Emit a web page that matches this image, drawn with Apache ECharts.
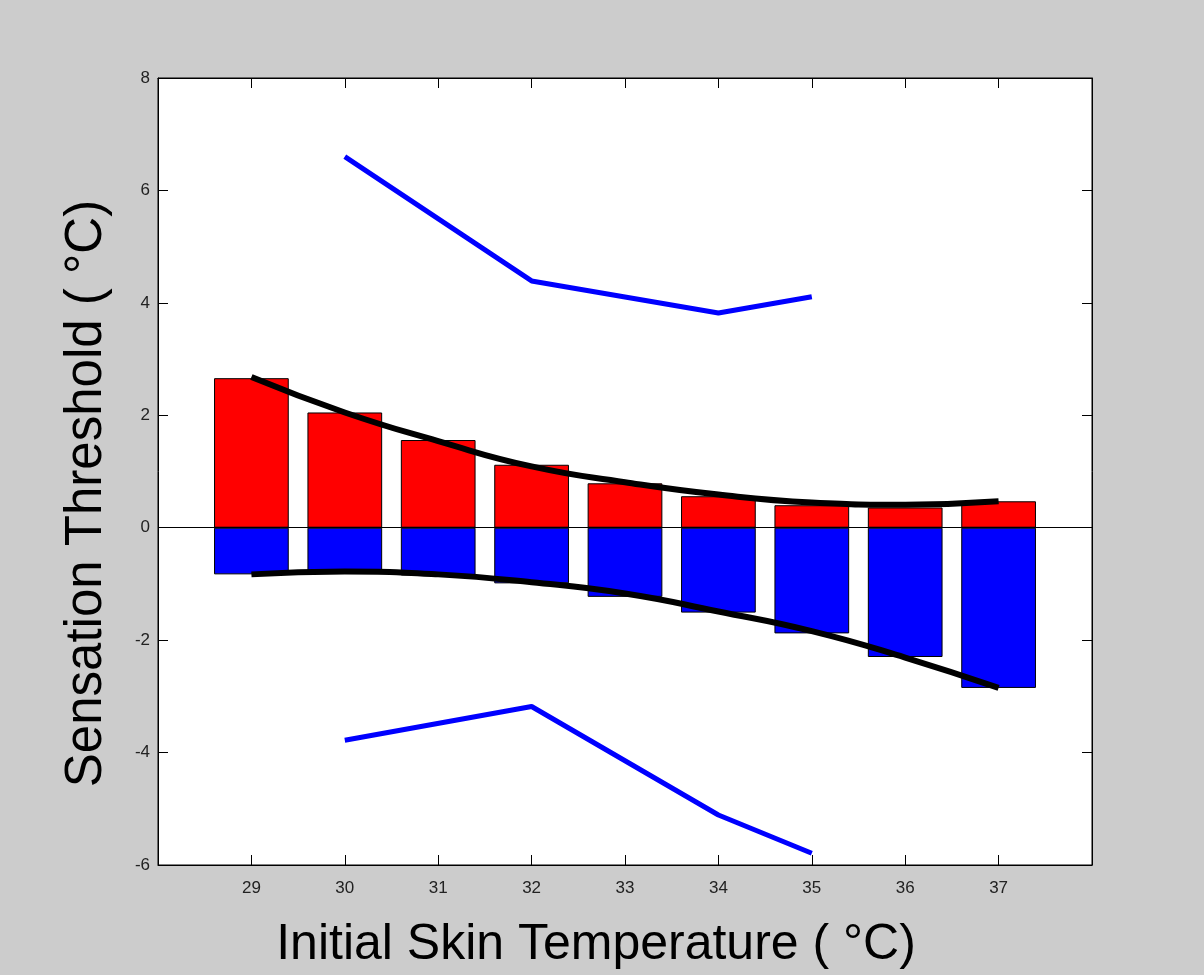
<!DOCTYPE html>
<html>
<head>
<meta charset="utf-8">
<script src="https://cdn.jsdelivr.net/npm/echarts@6/dist/echarts.min.js"></script>
<style>
html,body{margin:0;padding:0;background:#cccccc;overflow:hidden;}
#chart{width:1204px;height:975px;}
</style>
</head>
<body>
<div id="chart"></div>
<script>
// Data
const temps = [29, 30, 31, 32, 33, 34, 35, 36, 37];
const warmThreshold = [2.66, 2.05, 1.56, 1.12, 0.79, 0.56, 0.40, 0.36, 0.47];
const coldThreshold = [-0.83, -0.78, -0.85, -0.99, -1.23, -1.51, -1.88, -2.30, -2.85];
const warmFit = [2.68, 2.05, 1.54, 1.09, 0.81, 0.59, 0.45, 0.41, 0.47];
const coldFit = [-0.83, -0.78, -0.83, -0.97, -1.17, -1.49, -1.84, -2.31, -2.85];
const envTemps = [30, 32, 34, 35];
const upperEnv = [6.60, 4.39, 3.82, 4.11];
const lowerEnv = [-3.78, -3.18, -5.11, -5.79];
const xTickLabels = ['29', '30', '31', '32', '33', '34', '35', '36', '37'];

const pairs = (xs, ys) => xs.map((x, i) => [x, ys[i]]);

const chart = echarts.init(document.getElementById('chart'));
const font = 'Liberation Sans, Arial, Helvetica, sans-serif';
const tick = { show: true, inside: true, length: 10, lineStyle: { color: '#000', width: 1 } };
const line = { show: true, onZero: false, lineStyle: { color: '#000', width: 1 } };

const option = {
  backgroundColor: '#cccccc',
  animation: false,
  grid: {
    left: 158, top: 78, width: 934, height: 794,
    show: true, backgroundColor: '#ffffff', borderColor: '#000000', borderWidth: 1
  },
  xAxis: [{
    type: 'value', min: 28, max: 38, interval: 1, position: 'bottom',
    axisLine: line, axisTick: tick, splitLine: { show: false },
    axisLabel: {
      color: '#222', fontFamily: font, fontSize: 17, margin: 15,
      formatter: v => (xTickLabels.indexOf(String(v)) >= 0 ? String(v) : '')
    },
    name: 'Initial Skin Temperature ( °C)',
    nameLocation: 'middle', nameGap: 55,
    nameTextStyle: { color: '#000', fontFamily: font, fontSize: 50, padding: [0, 58, 0, 0] }
  }, {
    type: 'value', min: 28, max: 38, interval: 1, position: 'top',
    axisLine: line, axisTick: tick, axisLabel: { show: false }, splitLine: { show: false }
  }],
  yAxis: [{
    type: 'value', min: -6, max: 8, interval: 2, position: 'left',
    axisLine: line, axisTick: tick, splitLine: { show: false },
    axisLabel: { color: '#222', fontFamily: font, fontSize: 17, margin: 8 },
    name: 'Sensation Threshold ( °C)',
    nameLocation: 'middle', nameGap: 46,
    nameTextStyle: { color: '#000', fontFamily: font, fontSize: 51, padding: [0, 44, 0, 0] }
  }, {
    type: 'value', min: -6, max: 8, interval: 2, position: 'right',
    axisLine: line, axisTick: tick, axisLabel: { show: false }, splitLine: { show: false }
  }],
  series: [
    {
      name: 'Warm', type: 'bar', stack: 'th', barWidth: '80%',
      data: pairs(temps, warmThreshold),
      itemStyle: { color: '#ff0000', borderColor: '#000', borderWidth: 1 },
      markLine: {
        silent: true, symbol: ['none', 'none'], label: { show: false },
        lineStyle: { color: '#000', width: 1, type: 'solid' },
        data: [{ yAxis: 0 }]
      }
    },
    {
      name: 'Cold', type: 'bar', stack: 'th', barWidth: '80%',
      data: pairs(temps, coldThreshold),
      itemStyle: { color: '#0000ff', borderColor: '#000', borderWidth: 1 }
    },
    {
      name: 'Warm fit', type: 'line', smooth: true, showSymbol: false,
      data: pairs(temps, warmFit),
      lineStyle: { color: '#000', width: 6 }, z: 5
    },
    {
      name: 'Cold fit', type: 'line', smooth: true, showSymbol: false,
      data: pairs(temps, coldFit),
      lineStyle: { color: '#000', width: 6 }, z: 5
    },
    {
      name: 'Upper', type: 'line', showSymbol: false,
      data: pairs(envTemps, upperEnv),
      lineStyle: { color: '#0000ff', width: 5 }
    },
    {
      name: 'Lower', type: 'line', showSymbol: false,
      data: pairs(envTemps, lowerEnv),
      lineStyle: { color: '#0000ff', width: 5 }
    }
  ]
};
chart.setOption(option);
</script>
</body>
</html>
